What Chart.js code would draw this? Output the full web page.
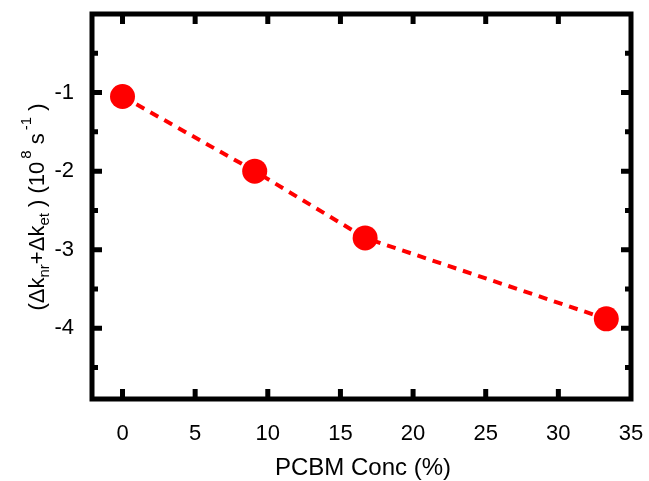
<!DOCTYPE html>
<html>
<head>
<meta charset="utf-8">
<script src="https://cdn.jsdelivr.net/npm/chart.js@4.4.0/dist/chart.umd.min.js"></script>
<style>
  html, body { margin: 0; padding: 0; background: #fff; }
  #wrap { width: 649px; height: 481px; }
</style>
</head>
<body>
<div id="wrap"><canvas id="chart" width="649" height="481"></canvas></div>
<script>
// data
const pcbmConc   = [0, 9.1, 16.7, 33.3];
const rateChange = [-1.05, -2.0, -2.85, -3.88];

const xTicks      = [0, 5, 10, 15, 20, 25, 30, 35];
const yTicks      = [-4, -3, -2, -1];
const yMinorTicks = [-4.5, -3.5, -2.5, -1.5, -0.5];

const FONT = "'Liberation Sans', Arial, sans-serif";

// frame + inward ticks on all four sides
const framePlugin = {
    id: 'frame',
    afterDatasetsDraw(chart) {
        const ctx = chart.ctx;
        const a = chart.chartArea;
        const xs = chart.scales.x, ys = chart.scales.y;
        ctx.save();
        ctx.strokeStyle = '#000';
        ctx.lineCap = 'butt';

        ctx.lineWidth = 5;
        xTicks.forEach(function (v) {
            const px = xs.getPixelForValue(v);
            if (px > a.right - 4) return;
            ctx.beginPath();
            ctx.moveTo(px, a.bottom); ctx.lineTo(px, a.bottom - 10);
            ctx.moveTo(px, a.top);    ctx.lineTo(px, a.top + 10);
            ctx.stroke();
        });
        yTicks.forEach(function (v) {
            const py = ys.getPixelForValue(v);
            ctx.beginPath();
            ctx.moveTo(a.left, py);  ctx.lineTo(a.left + 10, py);
            ctx.moveTo(a.right, py); ctx.lineTo(a.right - 10, py);
            ctx.stroke();
        });
        yMinorTicks.forEach(function (v) {
            const py = ys.getPixelForValue(v);
            ctx.beginPath();
            ctx.moveTo(a.left, py);  ctx.lineTo(a.left + 6, py);
            ctx.moveTo(a.right, py); ctx.lineTo(a.right - 6, py);
            ctx.stroke();
        });

        ctx.strokeRect(a.left, a.top, a.right - a.left, a.bottom - a.top);
        ctx.restore();
    }
};

// axis titles (y title has sub/superscripts)
const titlePlugin = {
    id: 'titles',
    afterDraw(chart) {
        const ctx = chart.ctx;
        ctx.save();
        ctx.fillStyle = '#000';
        ctx.font = '24px ' + FONT;
        ctx.textAlign = 'center';
        ctx.textBaseline = 'middle';
        ctx.fillText('PCBM Conc (%)', 363, 468);

        const parts = [
            ['(\u0394k', 0], ['nr', 1], ['+\u0394k', 0], ['et', 1],
            [' ) (10', 0], ['8', 2], [' s', 0], ['-1', 2], [' )', 0]
        ];
        const big = '22px ' + FONT, small = '15px ' + FONT;
        let total = 0;
        parts.forEach(function (p) {
            ctx.font = p[1] ? small : big;
            total += ctx.measureText(p[0]).width + (p[1] === 2 ? 3 : 0);
        });
        ctx.translate(44, 207);
        ctx.rotate(-Math.PI / 2);
        ctx.textAlign = 'left';
        ctx.textBaseline = 'alphabetic';
        let x = -total / 2;
        parts.forEach(function (p) {
            ctx.font = p[1] ? small : big;
            let dy = 0;
            if (p[1] === 1) dy = 5;
            if (p[1] === 2) { dy = -13; x += 3; }
            ctx.fillText(p[0], x, dy);
            x += ctx.measureText(p[0]).width;
        });
        ctx.restore();
    }
};

new Chart(document.getElementById('chart'), {
    type: 'scatter',
    data: {
        datasets: [{
            data: pcbmConc.map(function (c, i) { return { x: c, y: rateChange[i] }; }),
            showLine: true,
            borderColor: '#ff0000',
            borderWidth: 4,
            borderDash: [9, 7],
            backgroundColor: '#ff0000',
            pointBackgroundColor: '#ff0000',
            pointBorderWidth: 0,
            pointRadius: 12.5,
            pointHoverRadius: 12.5,
            tension: 0
        }]
    },
    options: {
        responsive: false,
        animation: false,
        events: [],
        layout: { padding: { top: 14, right: 18, left: 0, bottom: 0 } },
        plugins: { legend: { display: false }, tooltip: { enabled: false } },
        scales: {
            x: {
                type: 'linear',
                min: -2.1, max: 35,
                afterBuildTicks: function (s) { s.ticks = xTicks.map(function (v) { return { value: v }; }); },
                afterFit: function (s) { s.height = 82; s.paddingLeft = 0; s.paddingRight = 0; },
                grid: { display: false },
                border: { display: false },
                ticks: { color: '#000', font: { family: FONT, size: 22 }, padding: 14, maxRotation: 0 }
            },
            y: {
                min: -4.9, max: 0,
                afterBuildTicks: function (s) { s.ticks = yTicks.map(function (v) { return { value: v }; }); },
                afterFit: function (s) { s.width = 92; s.paddingTop = 0; s.paddingBottom = 0; },
                grid: { display: false },
                border: { display: false },
                ticks: { color: '#000', font: { family: FONT, size: 22 }, padding: 10 }
            }
        }
    },
    plugins: [framePlugin, titlePlugin]
});
</script>
</body>
</html>
